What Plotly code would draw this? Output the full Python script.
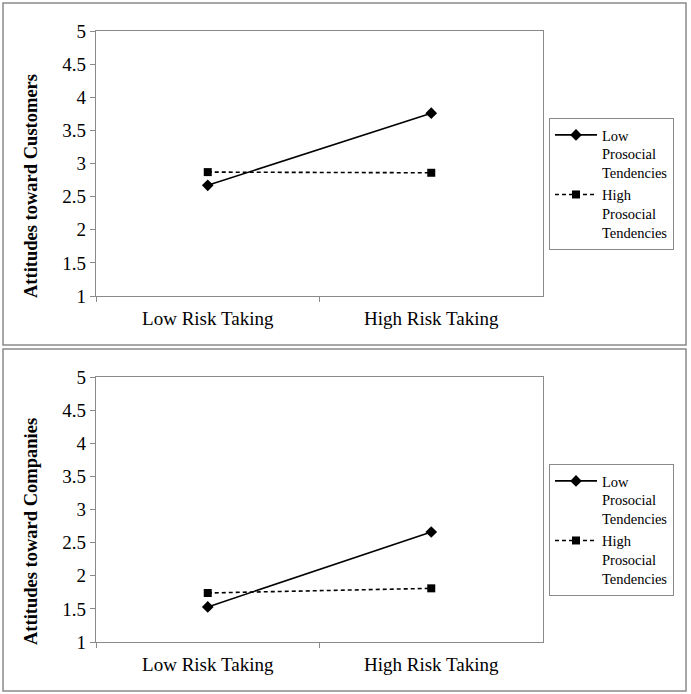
import plotly.graph_objects as go

categories = ["Low Risk Taking", "High Risk Taking"]
series_names = ["Low<br>Prosocial<br>Tendencies", "High<br>Prosocial<br>Tendencies"]
y_titles = ["Attitudes toward Customers", "Attitudes toward Companies"]

customers_low_prosocial = [2.67, 3.76]
customers_high_prosocial = [2.87, 2.86]
companies_low_prosocial = [1.53, 2.66]
companies_high_prosocial = [1.74, 1.81]

y_ticks = [1, 1.5, 2, 2.5, 3, 3.5, 4, 4.5, 5]

W, H = 691, 694
FONT = "Liberation Serif"
GRAY = "#8a8a8a"


def px_x(x):
    return x / W


def px_y(y):
    return (H - y) / H


fig = go.Figure()

panels = [
    (customers_low_prosocial, customers_high_prosocial, y_titles[0], "x", "y", "legend", 31, 296, 184, 186),
    (companies_low_prosocial, companies_high_prosocial, y_titles[1], "x2", "y2", "legend2", 377, 642, 530, 532),
]

layout = dict(
    width=W, height=H,
    margin=dict(l=0, r=0, t=0, b=0),
    paper_bgcolor="white", plot_bgcolor="white",
    font=dict(family=FONT, color="black", size=19),
    shapes=[], annotations=[],
)

for i, (low, high, title, xa, ya, lg, top, bot, lgc, tc) in enumerate(panels):
    fig.add_trace(go.Scatter(
        x=categories, y=low, name=series_names[0], mode="lines+markers",
        line=dict(color="black", width=1.6),
        marker=dict(symbol="diamond", size=9, color="black"),
        xaxis=xa, yaxis=ya, legend=lg,
    ))
    fig.add_trace(go.Scatter(
        x=categories, y=high, name=series_names[1], mode="lines+markers",
        line=dict(color="black", width=1.6, dash="4px,3px"),
        marker=dict(symbol="square", size=8, color="black"),
        xaxis=xa, yaxis=ya, legend=lg,
    ))
    xkey = "xaxis" if xa == "x" else "xaxis2"
    ykey = "yaxis" if ya == "y" else "yaxis2"
    layout[xkey] = dict(
        domain=[px_x(96), px_x(543)], anchor=ya,
        type="category", range=[-0.5, 1.5], tickson="boundaries",
        ticks="outside", ticklen=5, tickcolor=GRAY,
        showline=True, linecolor=GRAY, linewidth=1.3, mirror=True,
        showgrid=False, zeroline=False, automargin=False,
        tickfont=dict(family=FONT, size=19), ticklabelstandoff=5,
    )
    layout[ykey] = dict(
        domain=[px_y(bot), px_y(top)], anchor=xa,
        range=[1, 5], tickvals=y_ticks,
        ticks="outside", ticklen=5, tickcolor=GRAY,
        showline=True, linecolor=GRAY, linewidth=1.3, mirror=True,
        showgrid=False, zeroline=False, automargin=False,
        tickfont=dict(family=FONT, size=19),
    )
    layout["annotations"].append(dict(
        text="<b>" + title + "</b>", textangle=-90,
        xref="paper", yref="paper", x=px_x(31), y=px_y(tc),
        xanchor="center", yanchor="middle", showarrow=False,
        font=dict(family=FONT, size=18.5, color="black"),
    ))
    layout[lg] = dict(
        x=px_x(549), xanchor="left", y=px_y(lgc), yanchor="middle",
        bordercolor=GRAY, borderwidth=1, bgcolor="white",
        font=dict(family=FONT, size=14.5), valign="top", itemwidth=42,
    )
    ptop, pbot = (3, 345) if i == 0 else (349, 691)
    layout["shapes"].append(dict(
        type="rect", xref="paper", yref="paper",
        x0=px_x(3), x1=px_x(686), y0=px_y(pbot), y1=px_y(ptop),
        line=dict(color=GRAY, width=1.5),
    ))

fig.update_layout(**layout)
fig.write_html("out.html", config={"displayModeBar": False},
               post_script="document.body.style.margin='0';")
